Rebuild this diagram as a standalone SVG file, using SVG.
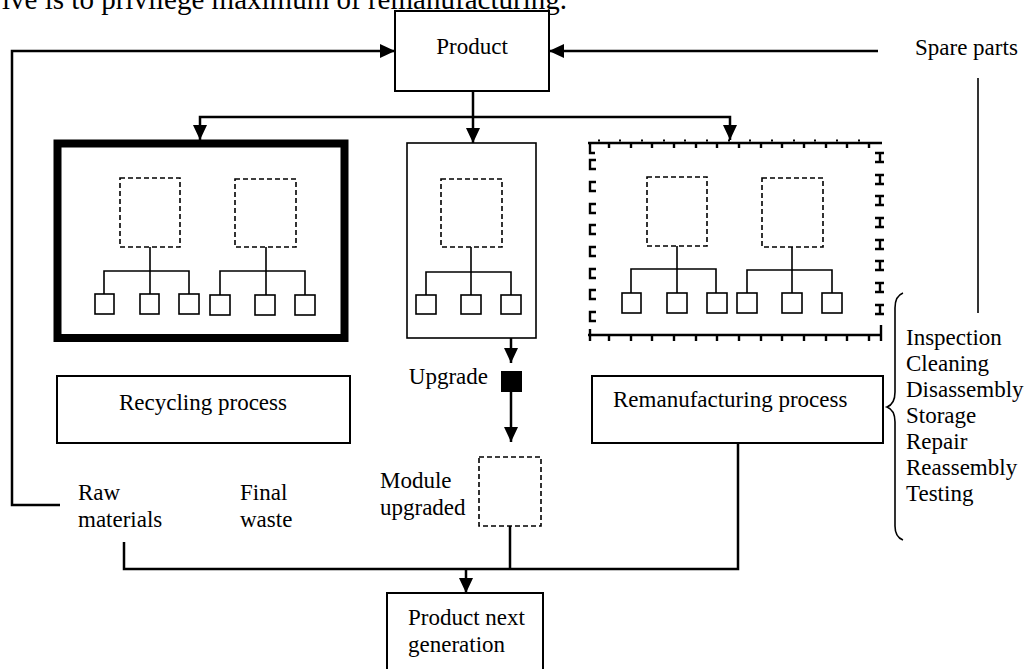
<svg xmlns="http://www.w3.org/2000/svg" width="1035" height="669" viewBox="0 0 1035 669">
<defs>
<style>
text{font-family:"Liberation Serif","Times New Roman",serif;font-size:23px;fill:#000}
.box{fill:#fff;stroke:#000;stroke-width:2}
.dash{fill:none;stroke:#000;stroke-width:1.6;stroke-dasharray:5,3}
.sq{fill:#fff;stroke:#000;stroke-width:1.6}
.tree{fill:none;stroke:#000;stroke-width:1.6}
.conn{fill:none;stroke:#000;stroke-width:2.5}
.thin{fill:none;stroke:#000;stroke-width:1.6}
.edge{fill:none;stroke:#000;stroke-width:2.4}
</style>
<marker id="arr" viewBox="0 0 15 14" refX="15" refY="7" markerWidth="15" markerHeight="14" markerUnits="userSpaceOnUse" orient="auto">
<path d="M0,0 L15,7 L0,14 z" fill="#000"/>
</marker>
</defs>
<rect width="1035" height="669" fill="#fff"/>
<text x="2" y="9" style="font-size:29px" textLength="565" lengthAdjust="spacingAndGlyphs">ive is to privilege maximum of remanufacturing.</text>

<g id="connectors">
<path class="conn" d="M60,505 H12 V51 H395" marker-end="url(#arr)"/>
<path class="conn" d="M878,51 H549" marker-end="url(#arr)"/>
<path class="conn" d="M473,91 V143" marker-end="url(#arr)"/>
<path class="conn" d="M473,117 H200 V140" marker-end="url(#arr)"/>
<path class="conn" d="M473,117 H730 V140" marker-end="url(#arr)"/>
<path class="thin" d="M978,78 V313"/>
<path class="conn" d="M511,312 V363" marker-end="url(#arr)"/>
<path class="conn" d="M511,392 V442" marker-end="url(#arr)"/>
<path class="conn" d="M510,526 V569"/>
<path class="conn" d="M124,542 V569 H738 V443"/>
<path class="conn" d="M466,569 V593" marker-end="url(#arr)"/>
</g>

<g id="product">
<rect class="box" x="395" y="11" width="154" height="80"/>
<text x="472" y="54" text-anchor="middle">Product</text>
</g>

<g id="spare-parts">
<text x="915" y="55">Spare parts</text>
</g>

<g id="recycling-module">
<rect x="57.5" y="143.5" width="287" height="194.5" fill="#fff" stroke="#000" stroke-width="8"/>
<rect class="dash" x="120" y="178" width="60" height="69"/>
<rect class="dash" x="235" y="179" width="61" height="68"/>
<path class="tree" d="M150,247 V271 M104,294 V271 H189 V294 M150,271 V294"/>
<path class="tree" d="M266,247 V271 M220,295 V271 H305 V295 M266,271 V295"/>
<rect class="sq" x="95" y="294" width="19" height="20"/>
<rect class="sq" x="140" y="294" width="19" height="20"/>
<rect class="sq" x="179" y="294" width="20" height="20"/>
<rect class="sq" x="210" y="295" width="20" height="20"/>
<rect class="sq" x="255" y="295" width="20" height="20"/>
<rect class="sq" x="295" y="295" width="20" height="20"/>
</g>

<g id="upgrade-module">
<rect class="box" x="407" y="143" width="129" height="195" style="stroke-width:1.6"/>
<rect class="dash" x="441" y="179" width="61" height="68"/>
<path class="tree" d="M471,247 V272 M426,295 V272 H511 V295 M471,272 V295"/>
<rect class="sq" x="416" y="295" width="20" height="19"/>
<rect class="sq" x="461" y="295" width="20" height="19"/>
<rect class="sq" x="501" y="295" width="20" height="19"/>
</g>

<g id="reman-module">
<path class="edge" d="M588,143 H882 M588,335 H882"/>
<path class="edge" d="M590,143 V153 H595 M609,143 V148 M631,143 V148 M652,143 V148 M674,143 V148 M696,143 V148 M717,143 V148 M739,143 V148 M761,143 V148 M782,143 V148 M804,143 V148 M826,143 V148 M847,143 V148 M869,143 V148"/>
<path class="edge" d="M590,329 V341 M609,335 V341 M631,335 V341 M652,335 V341 M674,335 V341 M696,335 V341 M717,335 V341 M739,335 V341 M761,335 V341 M782,335 V341 M804,335 V341 M826,335 V341 M847,335 V341 M869,335 V341 M881,325 V341"/>
<g fill="#000">
<rect x="598" y="139.5" width="2" height="2"/><rect x="619" y="139.5" width="2" height="2"/><rect x="641" y="139.5" width="2" height="2"/><rect x="663" y="139.5" width="2" height="2"/><rect x="684" y="139.5" width="2" height="2"/><rect x="706" y="139.5" width="2" height="2"/><rect x="728" y="139.5" width="2" height="2"/><rect x="749" y="139.5" width="2" height="2"/><rect x="771" y="139.5" width="2" height="2"/><rect x="793" y="139.5" width="2" height="2"/><rect x="814" y="139.5" width="2" height="2"/><rect x="836" y="139.5" width="2" height="2"/><rect x="858" y="139.5" width="2" height="2"/>
</g>
<path class="edge" d="M596,160 H590 V169 H596 M596,182 H590 V191 H596 M596,204 H590 V213 H596 M596,225 H590 V234 H596 M596,247 H590 V256 H596 M596,269 H590 V278 H596 M596,290 H590 V299 H596 M596,312 H590 V321 H596"/>
<path class="edge" d="M875,153 H884 M880,153 V162 M875,162 H884 M875,175 H884 M880,175 V184 M875,184 H884 M875,196 H884 M880,196 V205 M875,205 H884 M875,218 H884 M880,218 V227 M875,227 H884 M875,240 H884 M880,240 V249 M875,249 H884 M875,261 H884 M880,261 V270 M875,270 H884 M875,283 H884 M880,283 V292 M875,292 H884 M875,305 H884 M880,305 V314 M875,314 H884"/>
<rect class="dash" x="647" y="177" width="60" height="69"/>
<rect class="dash" x="762" y="178" width="61" height="69"/>
<path class="tree" d="M677,246 V269 M631,293 V269 H716 V293 M677,269 V293"/>
<path class="tree" d="M792,247 V270 M747,293 V270 H832 V293 M792,270 V293"/>
<rect class="sq" x="622" y="293" width="19" height="20"/>
<rect class="sq" x="667" y="293" width="20" height="20"/>
<rect class="sq" x="707" y="293" width="20" height="20"/>
<rect class="sq" x="737" y="293" width="20" height="20"/>
<rect class="sq" x="782" y="293" width="20" height="20"/>
<rect class="sq" x="822" y="293" width="20" height="20"/>
</g>

<g id="recycling-process">
<rect class="box" x="57" y="376" width="293" height="67"/>
<text x="203" y="410" text-anchor="middle">Recycling process</text>
</g>

<g id="remanufacturing-process">
<rect class="box" x="592" y="376" width="291" height="67"/>
<text x="613" y="407">Remanufacturing process</text>
</g>

<g id="upgrade">
<rect x="501" y="371" width="21" height="21" fill="#000"/>
<text x="488" y="384" text-anchor="end">Upgrade</text>
</g>

<g id="module-upgraded">
<rect class="dash" x="479" y="457" width="62" height="69"/>
<text x="380" y="488">Module</text>
<text x="380" y="515">upgraded</text>
</g>

<g id="raw-materials">
<text x="78" y="500">Raw</text>
<text x="78" y="527">materials</text>
</g>

<g id="final-waste">
<text x="240" y="500">Final</text>
<text x="240" y="527">waste</text>
</g>

<g id="product-next-generation">
<rect class="box" x="387" y="593" width="156" height="100"/>
<text x="408" y="625">Product next</text>
<text x="408" y="652">generation</text>
</g>

<g id="steps">
<path class="thin" d="M903,293 Q895,296 895,308 V392 Q895,404 887,407 Q895,410 895,422 V526 Q895,537 903,540"/>
<text x="906" y="345">Inspection</text>
<text x="906" y="371">Cleaning</text>
<text x="906" y="397">Disassembly</text>
<text x="906" y="423">Storage</text>
<text x="906" y="449">Repair</text>
<text x="906" y="475">Reassembly</text>
<text x="906" y="501">Testing</text>
</g>
</svg>
